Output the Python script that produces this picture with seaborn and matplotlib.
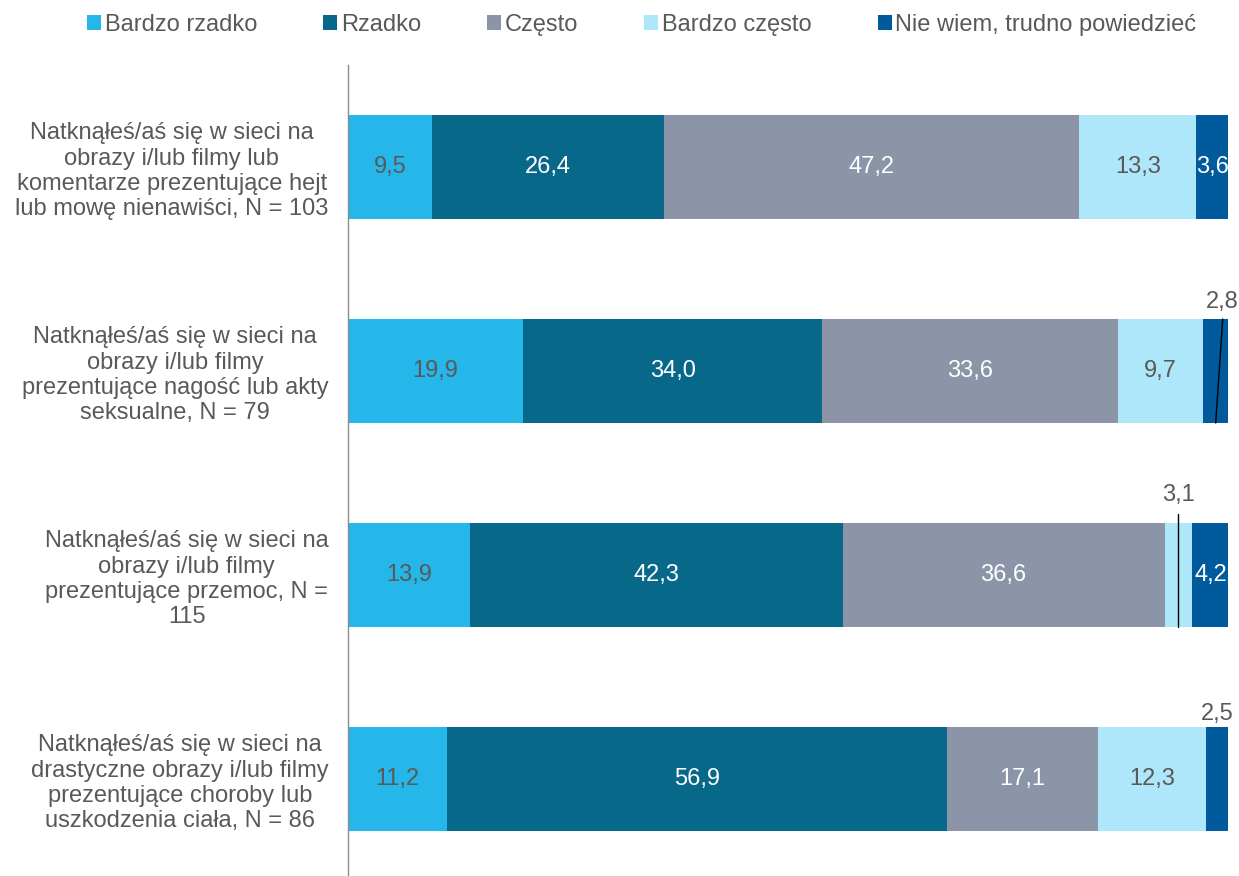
import numpy as np
import pandas as pd
import matplotlib.pyplot as plt
import seaborn as sns
from matplotlib.patches import Patch

# ---- data ----
questions = [
    "Natknąłeś/aś się w sieci na\nobrazy i/lub filmy lub\nkomentarze prezentujące hejt\nlub mowę nienawiści, N = 103",
    "Natknąłeś/aś się w sieci na\nobrazy i/lub filmy\nprezentujące nagość lub akty\nseksualne, N = 79",
    "Natknąłeś/aś się w sieci na\nobrazy i/lub filmy\nprezentujące przemoc, N =\n115",
    "Natknąłeś/aś się w sieci na\ndrastyczne obrazy i/lub filmy\nprezentujące choroby lub\nuszkodzenia ciała, N = 86",
]
series = ["Bardzo rzadko", "Rzadko", "Często", "Bardzo często", "Nie wiem, trudno powiedzieć"]
bardzo_rzadko = [9.5, 19.9, 13.9, 11.2]
rzadko = [26.4, 34.0, 42.3, 56.9]
czesto = [47.2, 33.6, 36.6, 17.1]
bardzo_czesto = [13.3, 9.7, 3.1, 12.3]
nie_wiem = [3.6, 2.8, 4.2, 2.5]

colors = ["#25B6EA", "#08688A", "#8C95A8", "#AEE6FA", "#005A9C"]
label_colors = ["#595959", "white", "white", "#595959", "white"]

vals = np.array([bardzo_rzadko, rzadko, czesto, bardzo_czesto, nie_wiem])
cum = np.cumsum(vals, axis=0)

sns.set_theme(style="white")
plt.rcParams["font.family"] = ["Liberation Sans", "DejaVu Sans"]

fig = plt.figure(figsize=(12.39, 8.76), dpi=100)
ax = fig.add_axes([348 / 1239, (876 - 881) / 876, 880 / 1239, 816 / 876])

# stacked bars: draw cumulative totals from the widest down
for i in range(len(series) - 1, -1, -1):
    df = pd.DataFrame({"q": questions, "v": cum[i]})
    sns.barplot(data=df, x="v", y="q", orient="h", color=colors[i],
                width=0.51, saturation=1, linewidth=0, ax=ax)

# labels inside segments (small ones go above the bar)
text_col = "#595959"
fs = 17
outside = {(1, 4): -0.34, (2, 3): -0.39, (3, 4): -0.32}
for r in range(len(questions)):
    for i in range(len(series)):
        v = vals[i, r]
        mid = cum[i, r] - v / 2
        lab = f"{v:.1f}".replace(".", ",")
        if (r, i) in outside:
            dy = outside[(r, i)]
            if r == 1:
                ax.text(mid + 0.8, r + dy, lab, ha="center", va="center",
                        fontsize=fs, color=text_col)
                ax.plot([mid + 0.8, mid], [r - 0.255, r + 0.255], color="black", lw=1)
            elif r == 2:
                ax.text(mid, r + dy, lab, ha="center", va="center",
                        fontsize=fs, color=text_col)
                ax.plot([mid, mid], [r - 0.30, r + 0.255], color="black", lw=1)
            else:
                ax.text(mid, r + dy, lab, ha="center", va="center",
                        fontsize=fs, color=text_col)
        else:
            ax.text(mid, r, lab, ha="center", va="center",
                    fontsize=fs, color=label_colors[i])

ax.set_xlim(0, 100)
ax.set_ylim(3.5, -0.5)
ax.set_xlabel("")
ax.set_ylabel("")
ax.set_xticks([])
for s in ["top", "right", "bottom"]:
    ax.spines[s].set_visible(False)
ax.spines["left"].set_color("#8C8C8C")
ax.spines["left"].set_linewidth(1)
ax.tick_params(axis="y", length=0, pad=14)
for t in ax.get_yticklabels():
    t.set_fontsize(17)
    t.set_color(text_col)
    t.set_multialignment("center")

handles = [Patch(facecolor=c, edgecolor="none") for c in colors]
fig.legend(handles, series, loc="upper center", bbox_to_anchor=(0.518, 1.008),
           ncol=5, frameon=False, fontsize=17, labelcolor=text_col,
           handlelength=0.6, handleheight=0.6, handletextpad=0.15,
           columnspacing=2.8)

fig.savefig("out.png", dpi=100)
